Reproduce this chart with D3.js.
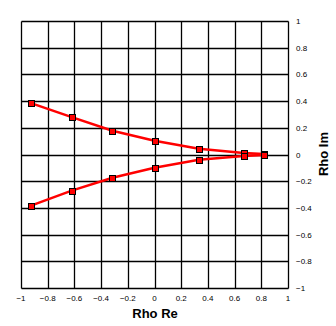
<!DOCTYPE html>
<html><head><meta charset="utf-8">
<script src="https://cdn.jsdelivr.net/npm/d3@7"></script>
<style>body{margin:0;background:#fff}svg{display:block}</style>
</head><body>
<svg id="c" width="336" height="326"></svg>
<script>
const rhoRe = [-0.925, -0.62, -0.315, 0, 0.333, 0.668, 0.818];
const rhoImUpper = [0.385, 0.28, 0.178, 0.103, 0.043, 0.011, 0.003];
const rhoImLower = [-0.383, -0.271, -0.174, -0.099, -0.039, -0.011, -0.003];
const ticks = [-1, -0.8, -0.6, -0.4, -0.2, 0, 0.2, 0.4, 0.6, 0.8, 1];
const xTitle = "Rho Re", yTitle = "Rho Im";

const svg = d3.select("#c");
const x = d3.scaleLinear().domain([-1, 1]).range([21, 288]);
const y = d3.scaleLinear().domain([-1, 1]).range([288, 21]);
const font = "'Liberation Sans', Arial, sans-serif";
const px = v => Math.round(v) + 0.5;

const grid = svg.append("g").attr("stroke", "#000").attr("stroke-width", 1.3);
grid.selectAll("line.v").data(ticks).join("line")
  .attr("x1", d => px(x(d))).attr("x2", d => px(x(d))).attr("y1", px(y(-1))).attr("y2", px(y(1)));
grid.selectAll("line.h").data(ticks).join("line")
  .attr("y1", d => px(y(d))).attr("y2", d => px(y(d))).attr("x1", px(x(-1))).attr("x2", px(x(1)));

svg.append("g").selectAll("text").data(ticks).join("text")
  .attr("x", d => x(d)).attr("y", 301).attr("text-anchor", "middle")
  .attr("font-family", font).attr("font-size", 8).text(d => d3.format("")(d));
svg.append("g").selectAll("text").data(ticks).join("text")
  .attr("x", 296).attr("y", d => y(d) + 3).attr("text-anchor", "start")
  .attr("font-family", font).attr("font-size", 8).text(d => d3.format("")(d));

svg.append("text").attr("x", 155).attr("y", 318).attr("text-anchor", "middle")
  .attr("font-family", font).attr("font-size", 13).attr("font-weight", "bold").text(xTitle);
svg.append("text").attr("transform", "translate(328,154) rotate(-90)").attr("text-anchor", "middle")
  .attr("font-family", font).attr("font-size", 13).attr("font-weight", "bold").text(yTitle);

const line = d3.line().x(d => x(d[0])).y(d => y(d[1]));
[rhoImUpper, rhoImLower].forEach(s => {
  const pts = rhoRe.map((r, i) => [r, s[i]]);
  svg.append("path").datum(pts).attr("d", line).attr("fill", "none")
    .attr("stroke", "#ff0000").attr("stroke-width", 2.5);
});
[rhoImUpper, rhoImLower].forEach(s => {
  const pts = rhoRe.map((r, i) => [r, s[i]]);
  svg.append("g").selectAll("rect").data(pts).join("rect")
    .attr("x", d => Math.round(x(d[0])) - 2.5).attr("y", d => Math.round(y(d[1])) - 2.5)
    .attr("width", 6).attr("height", 6)
    .attr("fill", "#ff0000").attr("stroke", "#000").attr("stroke-width", 1);
});
</script>
</body></html>
